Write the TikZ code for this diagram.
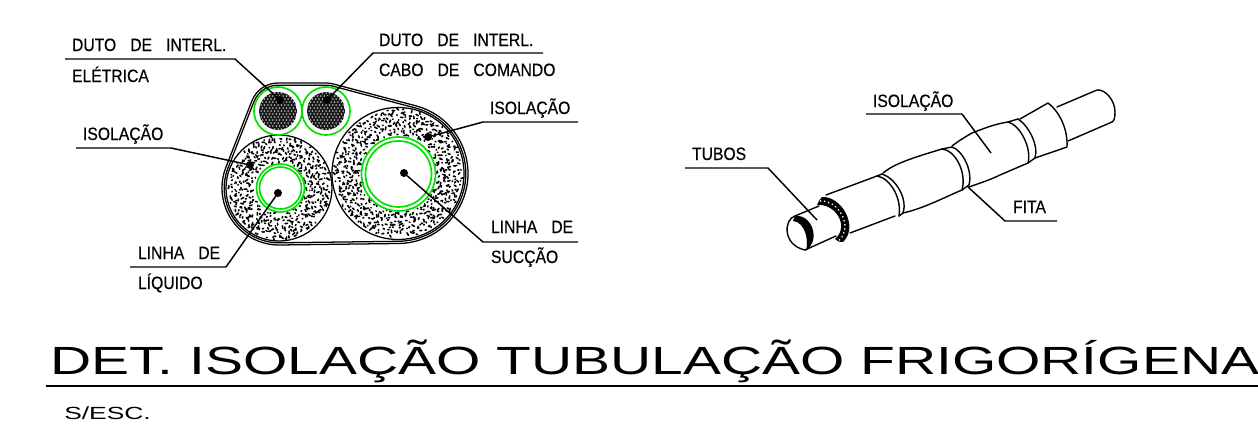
\documentclass[tikz,border=0pt]{standalone}
\usepackage{fontspec}
\setmainfont{Liberation Sans}
\newfontfamily\labfont[FakeStretch=0.88,FakeBold=0.4]{Liberation Sans}
\newfontfamily\titlefont[FakeStretch=1.448]{Liberation Sans}
\newfontfamily\scalefont[FakeStretch=1.5]{Liberation Sans}
\newcommand{\gp}{\hspace{10.5pt}}
\definecolor{ringgreen}{RGB}{0,225,0}
\newcommand{\stip}[4]{%
  \pgfmathtruncatemacro{\nn}{#4/3.7+1}%
  \foreach \i in {-\nn,...,\nn}{\foreach \j in {-\nn,...,\nn}{%
    \pgfmathsetmacro{\px}{3.7*\i+(rnd-0.5)*3.4}%
    \pgfmathsetmacro{\py}{3.7*\j+(rnd-0.5)*3.4}%
    \pgfmathsetmacro{\rr}{sqrt(\px*\px+\py*\py)}%
    \pgfmathtruncatemacro{\ok}{and(\rr>#3,\rr<#4)}%
    \ifnum\ok=1
      \pgfmathsetmacro{\bb}{rnd*360}%
      \pgfmathsetmacro{\ll}{0.4+rnd*2.6}%
      \draw[line width=1.2pt,line cap=round] ({#1+\px},{#2+\py}) -- ++({\ll*cos(\bb)},{\ll*sin(\bb)});
    \fi
  }}}
\newcommand{\band}[1]{%
  \draw[bandline] ({326+(28+#1)*cos(-90)},{111+(28+#1)*sin(-90)})
    arc[start angle=-90,end angle=-75.2,radius=28+#1]
    -- ({398+(70+#1)*cos(-75.2)},{173.5+(70+#1)*sin(-75.2)})
    arc[start angle=-75.2,end angle=89.25,radius=70+#1]
    -- ({279+(57+#1)*cos(89.25)},{188+(57+#1)*sin(89.25)})
    arc[start angle=89.25,end angle=201.39,radius=57+#1]
    -- ({278+(28+#1)*cos(201.39)},{111+(28+#1)*sin(201.39)})
    arc[start angle=201.39,end angle=270,radius=28+#1]
    -- cycle;}
\newcommand{\duct}[2]{%
  \begin{scope}
    \clip (#1,#2) circle[radius=19];
    \fill[black!90] (#1,#2) circle[radius=19];
    \foreach \i in {-6,...,6}{\foreach \j in {-6,...,6}{%
      \fill[white] ({#1+3.4*\i+1.7*mod(\j+6,2)},{#2+3.0*\j}) circle[radius=0.75];}}
  \end{scope}
  \draw[ring] (#1,#2) circle[radius=24];
}
\tikzset{
  x=0.75pt,y=-0.75pt,
  bandline/.style={line width=0.95pt,line join=round},
  ring/.style={draw=ringgreen,line width=1.25pt},
  leader/.style={line width=1.1pt,line join=round},
  lab/.style={anchor=base west,inner sep=0pt,outer sep=0pt,font=\labfont\fontsize{13.4}{15}\selectfont},
  dotn/.style={circle,fill=black,inner sep=0pt,minimum size=6pt},
  pipe/.style={line width=1.05pt,line cap=round,line join=round},
}
\begin{document}
\begin{tikzpicture}
\useasboundingbox (0,0) rectangle (1258,446);
\pgfmathsetseed{4242}
% left detail
\band{0}\band{-2.2}
\draw[line width=0.95pt] (398,173.5) circle[radius=66];
\draw[line width=0.95pt] (279,188) circle[radius=53];
\stip{398}{173.5}{38}{64}
\stip{279}{188}{25.5}{51}
\draw[ring] (398.5,174) circle[radius=37];
\draw[ring] (398.5,174) circle[radius=33];
\draw[ring] (280.5,188) circle[radius=24];
\draw[ring] (280.5,188) circle[radius=21];
\duct{278}{111}
\duct{326}{111}
% dots
\node[dotn] (d1) at (280,100) {};
\node[dotn] (d2) at (327,100) {};
\node[dotn] (d3) at (250,165) {};
\node[dotn] (d4) at (278,193) {};
\node[dotn] (d5) at (428,137) {};
\node[dotn] (d6) at (404,173) {};
% labels
\node[lab] (t1) at (72,51) {DUTO\gp DE\gp INTERL.};
\node[lab] (t1b) at (72,82) {ELÉTRICA};
\node[lab] (t2) at (379,46) {DUTO\gp DE\gp INTERL.};
\node[lab] (t2b) at (379,76) {CABO\gp DE\gp COMANDO};
\node[lab] (t3) at (83,140) {ISOLAÇÃO};
\node[lab] (t4) at (490,114) {ISOLAÇÃO};
\node[lab] (t5) at (138,259) {LINHA\gp DE};
\node[lab] (t5b) at (138,289) {LÍQUIDO};
\node[lab] (t6) at (491,233) {LINHA\gp DE};
\node[lab] (t6b) at (491,263) {SUCÇÃO};
\node[lab] (t7) at (692,160) {TUBOS};
\node[lab] (t8) at (873,107) {ISOLAÇÃO};
\node[lab] (t9) at (1013,213) {FITA};
% leaders
\coordinate (a1) at (65,59); \coordinate (b1) at (235,59);
\coordinate (a2) at (543,53); \coordinate (b2) at (373,53);
\coordinate (a3) at (76,148); \coordinate (b3) at (171,148);
\coordinate (a4) at (578,122); \coordinate (b4) at (483,122);
\coordinate (a5) at (130,267); \coordinate (b5) at (226,267);
\coordinate (a6) at (578,242); \coordinate (b6) at (483,242);
\coordinate (a7) at (685,168); \coordinate (b7) at (768,168); \coordinate (c7) at (817,220);
\coordinate (a8) at (866,114); \coordinate (b8) at (962,114); \coordinate (c8) at (991,153);
\coordinate (a9) at (1057,221); \coordinate (b9) at (1005,221); \coordinate (c9) at (968,187);
\draw[leader] (a1) -- (b1) -- (d1.center);
\draw[leader] (a2) -- (b2) -- (d2.center);
\draw[leader] (a3) -- (b3) -- (d3.center);
\draw[leader] (a4) -- (b4) -- (d5.center);
\draw[leader] (a5) -- (b5) -- (d4.center);
\draw[leader] (a6) -- (b6) -- (d6.center);
\draw[leader] (a7) -- (b7) -- (c7);
\draw[leader] (a8) -- (b8) -- (c8);
\draw[leader] (a9) -- (b9) -- (c9);
% pipe: end tube
\draw[pipe] (795,216) .. controls (784,219) and (782,245) .. (805,250);
\fill (795,216) .. controls (812,214) and (821,240) .. (806,250.5)
      .. controls (809,240) and (805,222) .. (793,221) -- cycle;
\draw[pipe] (795,216) -- (819,206);
\draw[pipe] (805,250) -- (836,236);
% stippled ring
\fill (822,197) .. controls (842,196) and (859,227) .. (843,242)
      .. controls (840,243) and (837,241) .. (835,239)
      .. controls (850,226) and (835,203) .. (817,205)
      .. controls (818,202) and (820,199) .. (822,197) -- cycle;
\draw[white,line width=1.3pt,line cap=round,dash pattern=on 0.1pt off 3pt]
      (820.5,201) .. controls (838,200) and (854,226) .. (839,240.5);
% insulation section 1
\draw[pipe] (826,195) -- (877,176);
\draw[pipe] (850,233) -- (895,216);
% fita 1
\draw[pipe] (877,176) .. controls (890,178) and (902,198) .. (899,216);
\draw[pipe] (882,174) .. controls (895,178) and (908,198) .. (903,213);
\draw[pipe] (877,176) -- (882,174);
\draw[pipe] (899,216) -- (903,213);
\draw[pipe] (883,173) .. controls (893,165) and (905,160) .. (942,149);
\draw[pipe] (903,213) .. controls (925,208) and (945,197) .. (962,190);
% fita 2
\draw[pipe] (942,149) .. controls (955,150) and (967,172) .. (962,190);
\draw[pipe] (952,147) .. controls (962,150) and (973,170) .. (969,185);
\draw[pipe] (942,149) -- (952,147);
\draw[pipe] (962,190) -- (969,185);
% section 2
\draw[pipe] (952,146) .. controls (960,140) and (965,137) .. (972,133) .. controls (985,128) and (995,124) .. (1008,122);
\draw[pipe] (969,187) .. controls (980,183) and (990,180) .. (1000,175) -- (1028,163);
% fita 3
\draw[pipe] (1008,122) .. controls (1020,125) and (1032,148) .. (1028,163);
\draw[pipe] (1018,119) .. controls (1028,125) and (1039,145) .. (1035,158);
\draw[pipe] (1008,122) -- (1018,119);
\draw[pipe] (1028,163) -- (1035,158);
% section 3
\draw[pipe] (1020,119) -- (1048,103) .. controls (1060,112) and (1068,130) .. (1067,147) -- (1035,158);
% inner tube
\draw[pipe] (1057,107) -- (1097,90) .. controls (1105,89) and (1115,100) .. (1115,112) .. controls (1115,118) and (1114,121) .. (1112,122) -- (1068,141);
% title
\node[anchor=base west,inner sep=0pt,font=\titlefont\fontsize{29.5}{32}\selectfont] (ttl) at (50,374) {DET. ISOLAÇÃO TUBULAÇÃO FRIGORÍGENA};
\coordinate (r1) at (46,386); \coordinate (r2) at (1258,386);
\draw[line width=1.1pt] (r1) -- (r2);
\node[anchor=base west,inner sep=0pt,font=\scalefont\fontsize{13.2}{15}\selectfont] (sc) at (64,419) {S/ESC.};
\end{tikzpicture}
\end{document}
